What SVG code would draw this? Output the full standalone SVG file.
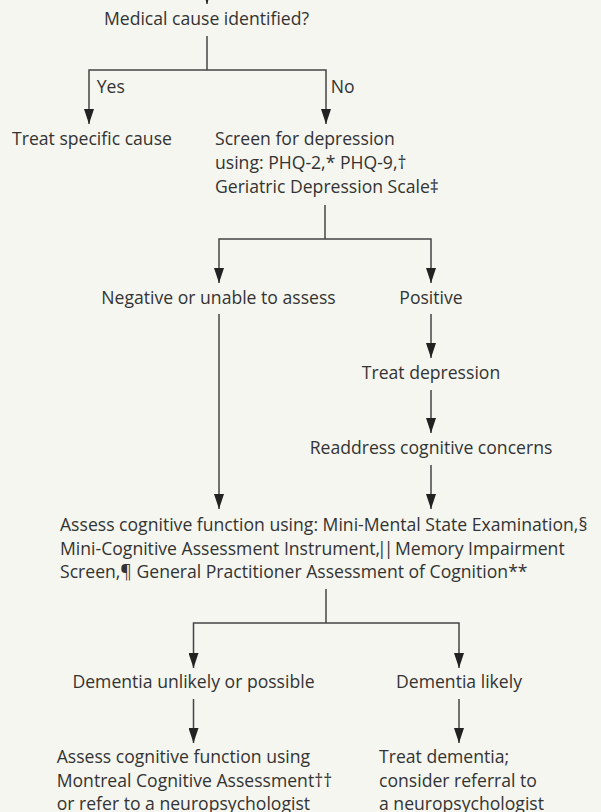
<svg xmlns="http://www.w3.org/2000/svg" width="601" height="812" viewBox="0 0 601 812">
<defs>
<style>
text{font-family:"Open Sans","Liberation Sans",sans-serif;font-size:17.6px;fill:#333}
.c{text-anchor:middle}
.ln{fill:none;stroke:#444;stroke-width:1.5}
.ar{fill:none;stroke:#444;stroke-width:1.5;marker-end:url(#ah)}
</style>
<marker id="ah" viewBox="0 0 15 10" refX="15" refY="5" markerWidth="15" markerHeight="10" orient="auto" markerUnits="userSpaceOnUse">
<path d="M0,0 L15,5 L0,10 z" fill="#222"/>
</marker>
</defs>
<rect width="601" height="812" fill="#f5f6f0"/>
<g id="connectors">
<path class="ar" d="M207,-30 V4"/>
<path class="ln" d="M207,36 V70"/>
<path class="ar" d="M207,70 H89 V124"/>
<path class="ar" d="M207,70 H326 V124"/>
<path class="ln" d="M325,205 V239"/>
<path class="ar" d="M325,239 H219 V283"/>
<path class="ar" d="M325,239 H431 V283"/>
<path class="ar" d="M219,314 V509"/>
<path class="ar" d="M431,314 V358"/>
<path class="ar" d="M431,390 V433"/>
<path class="ar" d="M431,465 V509"/>
<path class="ln" d="M326,589 V623"/>
<path class="ar" d="M326,623 H193.5 V668"/>
<path class="ar" d="M326,623 H459 V668"/>
<path class="ar" d="M193.5,699 V743"/>
<path class="ar" d="M459,699 V743"/>
<text x="96.7" y="93">Yes</text>
<text x="330.7" y="93">No</text>
</g>
<g id="n-medical"><text class="c" x="206.5" y="25">Medical cause identified?</text></g>
<g id="n-treat-specific"><text x="12" y="145">Treat specific cause</text></g>
<g id="n-screen">
<text x="215" y="145">Screen for depression</text>
<text x="215" y="169">using: PHQ-2,* PHQ-9,†</text>
<text x="215" y="193">Geriatric Depression Scale‡</text>
</g>
<g id="n-negative"><text class="c" x="218.5" y="304">Negative or unable to assess</text></g>
<g id="n-positive"><text class="c" x="431" y="304">Positive</text></g>
<g id="n-treat-depression"><text class="c" x="431" y="379">Treat depression</text></g>
<g id="n-readdress"><text class="c" x="431" y="454">Readdress cognitive concerns</text></g>
<g id="n-assess">
<text x="60" y="531">Assess cognitive function using: Mini-Mental State Examination,§</text>
<text x="60" y="554.5">Mini-Cognitive Assessment Instrument<tspan letter-spacing="-3">,||</tspan> Memory Impairment</text>
<text x="60" y="578">Screen,¶ General Practitioner Assessment of Cognition**</text>
</g>
<g id="n-unlikely"><text class="c" x="193.5" y="688">Dementia unlikely or possible</text></g>
<g id="n-likely"><text class="c" x="459" y="688">Dementia likely</text></g>
<g id="n-moca">
<text x="56.7" y="763">Assess cognitive function using</text>
<text x="56.7" y="787">Montreal Cognitive Assessment††</text>
<text x="56.7" y="810">or refer to a neuropsychologist</text>
</g>
<g id="n-treat-dementia">
<text x="379" y="763">Treat dementia;</text>
<text x="379" y="787">consider referral to</text>
<text x="379" y="810">a neuropsychologist</text>
</g>
</svg>
